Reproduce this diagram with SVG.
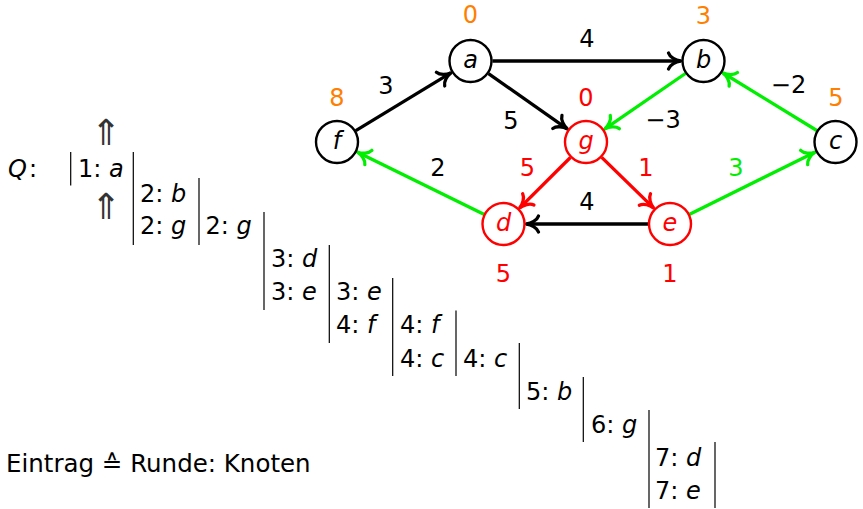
<svg xmlns="http://www.w3.org/2000/svg" width="863" height="509" viewBox="0 0 863 509">
<style>
text{font-family:"DejaVu Sans","Liberation Sans",sans-serif;font-size:24px;fill:#000}
.it{font-style:italic}
.m{text-anchor:middle}
.or{fill:#ff8000}
.rd{fill:#ff0000}
.gr{fill:#00ee00}
.up{font-family:"DejaVu Sans",sans-serif;font-size:36px;fill:#333}
.node circle{fill:#fff;stroke-width:2.4}
.nb circle{stroke:#000}
.nr circle{stroke:#ff0000}
.nr text{fill:#ff0000}
.e{fill:none;stroke-width:3.3}
.k{stroke:#000}
.r{stroke:#ff0000}
.g{stroke:#00ee00}
.bar{stroke:#000;stroke-width:1.2}
.ah{fill:none;stroke-width:3.3;stroke-linecap:round;stroke-linejoin:round}
</style>
<defs>
<marker id="ak" markerUnits="userSpaceOnUse" viewBox="-16 -12 18 24" refX="0" refY="0" markerWidth="18" markerHeight="24" orient="auto" overflow="visible">
<path class="ah" stroke="#000" d="M-12,-8 C-10.5,-3.5 -4.5,-0.6 0,0 C-4.5,0.6 -10.5,3.5 -12,8"/>
</marker>
<marker id="ar" markerUnits="userSpaceOnUse" viewBox="-16 -12 18 24" refX="0" refY="0" markerWidth="18" markerHeight="24" orient="auto" overflow="visible">
<path class="ah" stroke="#ff0000" d="M-12,-8 C-10.5,-3.5 -4.5,-0.6 0,0 C-4.5,0.6 -10.5,3.5 -12,8"/>
</marker>
<marker id="ag" markerUnits="userSpaceOnUse" viewBox="-16 -12 18 24" refX="0" refY="0" markerWidth="18" markerHeight="24" orient="auto" overflow="visible">
<path class="ah" stroke="#00ee00" d="M-12,-8 C-10.5,-3.5 -4.5,-0.6 0,0 C-4.5,0.6 -10.5,3.5 -12,8"/>
</marker>
</defs>
<rect width="863" height="509" fill="#fff"/>

<g id="connectors">
<line class="e k" x1="355.8" y1="130.6" x2="450.8" y2="72.9" marker-end="url(#ak)"/>
<line class="e k" x1="492.5" y1="61" x2="680.5" y2="61" marker-end="url(#ak)"/>
<line class="e k" x1="488.5" y1="73.6" x2="567.2" y2="128.8" marker-end="url(#ak)"/>
<line class="e g" x1="685.4" y1="73.5" x2="604.9" y2="128.9" marker-end="url(#ag)"/>
<line class="e g" x1="816.8" y1="130.5" x2="723.1" y2="73.0" marker-end="url(#ag)"/>
<line class="e r" x1="570.4" y1="157.5" x2="519.8" y2="207.8" marker-end="url(#ar)"/>
<line class="e r" x1="601.7" y1="157.4" x2="653.5" y2="207.9" marker-end="url(#ar)"/>
<line class="e k" x1="648" y1="224" x2="526.5" y2="224" marker-end="url(#ak)"/>
<line class="e g" x1="483.8" y1="214.3" x2="357.6" y2="152.2" marker-end="url(#ag)"/>
<line class="e g" x1="689.7" y1="214.2" x2="814.9" y2="152.2" marker-end="url(#ag)"/>
<text class="m" x="587" y="47">4</text>
<text class="m" x="386" y="94">3</text>
<text class="m" x="511" y="129">5</text>
<text class="m" x="663" y="128">−3</text>
<text class="m" x="788.5" y="93">−2</text>
<text class="m" x="438" y="176">2</text>
<text class="m rd" x="527.5" y="176">5</text>
<text class="m rd" x="646" y="176">1</text>
<text class="m gr" x="736" y="176">3</text>
<text class="m" x="587" y="210">4</text>
</g>

<g id="node-a" class="node nb"><circle cx="470.5" cy="61" r="21"/><text class="m it" x="470.5" y="68">a</text><text class="m or" x="470.5" y="23">0</text></g>
<g id="node-b" class="node nb"><circle cx="703.5" cy="61" r="21"/><text class="m it" x="703.5" y="68">b</text><text class="m or" x="703.5" y="24">3</text></g>
<g id="node-f" class="node nb"><circle cx="337" cy="142" r="21"/><text class="m it" x="337" y="149">f</text><text class="m or" x="337" y="106">8</text></g>
<g id="node-c" class="node nb"><circle cx="835.5" cy="142" r="21"/><text class="m it" x="835.5" y="149">c</text><text class="m or" x="836" y="106">5</text></g>
<g id="node-g" class="node nr"><circle cx="586" cy="142" r="21"/><text class="m it" x="586" y="149">g</text><text class="m" x="586" y="106">0</text></g>
<g id="node-d" class="node nr"><circle cx="503.5" cy="224" r="21"/><text class="m it" x="503.5" y="231">d</text><text class="m" x="503.5" y="282">5</text></g>
<g id="node-e" class="node nr"><circle cx="670" cy="224" r="21"/><text class="m it" x="670" y="231">e</text><text class="m" x="670" y="282">1</text></g>

<g id="queue">
<text x="8" y="176.5"><tspan class="it">Q</tspan></text>
<text x="29" y="176.5">:</text>
<text class="m up" x="106" y="145">⇑</text>
<text class="m up" x="106" y="219">⇑</text>
<g id="bars">
<line class="bar" x1="70.7" y1="152" x2="70.7" y2="185.5"/>
<line class="bar" x1="133.3" y1="152" x2="133.3" y2="245"/>
<line class="bar" x1="199" y1="178" x2="199" y2="245"/>
<line class="bar" x1="264" y1="212" x2="264" y2="310"/>
<line class="bar" x1="329.3" y1="245" x2="329.3" y2="343"/>
<line class="bar" x1="392.7" y1="278" x2="392.7" y2="376"/>
<line class="bar" x1="456" y1="310.5" x2="456" y2="376"/>
<line class="bar" x1="519.3" y1="343" x2="519.3" y2="409"/>
<line class="bar" x1="583.3" y1="377" x2="583.3" y2="442"/>
<line class="bar" x1="649" y1="410" x2="649" y2="508"/>
<line class="bar" x1="715" y1="442" x2="715" y2="508"/>
</g>
<text x="78" y="176.5">1: <tspan class="it">a</tspan></text>
<text x="140" y="201.5">2: <tspan class="it">b</tspan></text>
<text x="140" y="234">2: <tspan class="it">g</tspan></text>
<text x="205.5" y="234">2: <tspan class="it">g</tspan></text>
<text x="271" y="267">3: <tspan class="it">d</tspan></text>
<text x="271" y="300">3: <tspan class="it">e</tspan></text>
<text x="336" y="300">3: <tspan class="it">e</tspan></text>
<text x="336" y="333">4: <tspan class="it">f</tspan></text>
<text x="400" y="333">4: <tspan class="it">f</tspan></text>
<text x="400" y="366.5">4: <tspan class="it">c</tspan></text>
<text x="463" y="366.5">4: <tspan class="it">c</tspan></text>
<text x="526" y="400">5: <tspan class="it">b</tspan></text>
<text x="591" y="433">6: <tspan class="it">g</tspan></text>
<text x="655" y="466">7: <tspan class="it">d</tspan></text>
<text x="655" y="499">7: <tspan class="it">e</tspan></text>
</g>
<text x="6" y="471.5" style="font-size:24.5px">Eintrag ≙ Runde: Knoten</text>
</svg>
